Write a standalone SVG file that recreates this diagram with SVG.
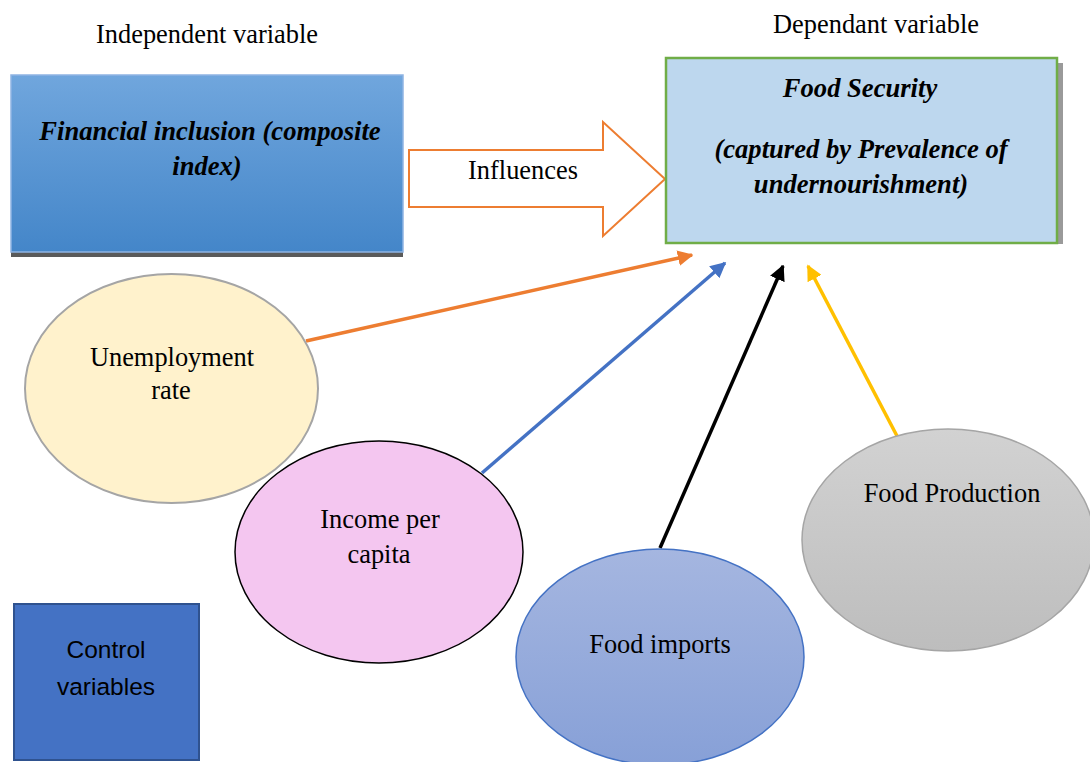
<svg xmlns="http://www.w3.org/2000/svg" width="1090" height="762" viewBox="0 0 1090 762">
<defs>
<linearGradient id="gFin" x1="0" y1="0" x2="0" y2="1"><stop offset="0" stop-color="#70a6dd"/><stop offset="1" stop-color="#4486c9"/></linearGradient>
<linearGradient id="gImp" x1="0" y1="0" x2="0" y2="1"><stop offset="0" stop-color="#a5b6e0"/><stop offset="1" stop-color="#87a0d7"/></linearGradient>
<linearGradient id="gProd" x1="0" y1="0" x2="0" y2="1"><stop offset="0" stop-color="#d2d2d2"/><stop offset="1" stop-color="#bdbdbd"/></linearGradient>
<marker id="mO" viewBox="0 0 10 10" refX="9" refY="5" markerWidth="4.5" markerHeight="4.5" orient="auto" markerUnits="strokeWidth"><path d="M0,0 L10,5 L0,10 z" fill="#ed7d31"/></marker>
<marker id="mB" viewBox="0 0 10 10" refX="9" refY="5" markerWidth="4.5" markerHeight="4.5" orient="auto" markerUnits="strokeWidth"><path d="M0,0 L10,5 L0,10 z" fill="#4472c4"/></marker>
<marker id="mK" viewBox="0 0 10 10" refX="9" refY="5" markerWidth="4.5" markerHeight="4.5" orient="auto" markerUnits="strokeWidth"><path d="M0,0 L10,5 L0,10 z" fill="#000"/></marker>
<marker id="mY" viewBox="0 0 10 10" refX="9" refY="5" markerWidth="4.5" markerHeight="4.5" orient="auto" markerUnits="strokeWidth"><path d="M0,0 L10,5 L0,10 z" fill="#ffc000"/></marker>
</defs>
<style>
.t{font-family:"Liberation Serif","Times New Roman",serif;font-size:26.4px;fill:#000;text-anchor:middle}
.bi{font-weight:bold;font-style:italic;font-size:26.6px}
.s{font-family:"Liberation Sans",Arial,sans-serif;font-size:24.5px;fill:#000;text-anchor:middle}
.c{fill:none;stroke-width:3.5}
</style>
<rect width="1090" height="762" fill="#fff"/>
<text class="t" x="207" y="43">Independent variable</text>
<text class="t" x="876" y="33">Dependant variable</text>
<g id="financial">
<rect x="11" y="252" width="392" height="5" fill="#5a5a5a"/>
<rect x="11" y="75" width="392" height="177" fill="url(#gFin)" stroke="#8fb4e3" stroke-width="1.5"/>
<text class="t bi" x="210" y="140">Financial inclusion (composite</text>
<text class="t bi" x="207" y="175">index)</text>
</g>
<g id="influences">
<path d="M409,150 L603,150 L603,122 L665,179 L603,236 L603,207 L409,207 Z" fill="#fff" stroke="#ed7d31" stroke-width="2"/>
<text class="t" x="523" y="179">Influences</text>
</g>
<g id="foodsecurity">
<rect x="1057" y="63" width="6" height="181" fill="#9a9a9a"/>
<rect x="666" y="58" width="391" height="185" fill="#bdd7ee" stroke="#70ad47" stroke-width="2.5"/>
<text class="t bi" x="860" y="97">Food Security</text>
<text class="t bi" x="861" y="158">(captured by Prevalence of</text>
<text class="t bi" x="861" y="193">undernourishment)</text>
</g>
<g id="connectors">
<line class="c" x1="306" y1="341" x2="692" y2="255" stroke="#ed7d31" marker-end="url(#mO)"/>
<line class="c" x1="482" y1="473" x2="725" y2="263" stroke="#4472c4" marker-end="url(#mB)"/>
<line class="c" x1="660" y1="548" x2="783" y2="266" stroke="#000" marker-end="url(#mK)"/>
<line class="c" x1="897" y1="436" x2="808" y2="266" stroke="#ffc000" marker-end="url(#mY)"/>
</g>
<g id="unemployment">
<ellipse cx="171.5" cy="388.5" rx="146.5" ry="114.5" fill="#fff2cc" stroke="#a5a5a5" stroke-width="2"/>
<text class="t" x="172" y="366">Unemployment</text>
<text class="t" x="171" y="399">rate</text>
</g>
<g id="income">
<ellipse cx="379" cy="552" rx="144" ry="111" fill="#f4c6f0" stroke="#000" stroke-width="1.5"/>
<text class="t" x="380" y="528">Income per</text>
<text class="t" x="379" y="563">capita</text>
</g>
<g id="imports">
<ellipse cx="660" cy="657" rx="144" ry="108" fill="url(#gImp)" stroke="#4472c4" stroke-width="1.5"/>
<text class="t" x="660" y="653">Food imports</text>
</g>
<g id="production">
<ellipse cx="948" cy="540" rx="146" ry="111" fill="url(#gProd)" stroke="#a5a5a5" stroke-width="1.5"/>
<text class="t" x="952" y="502">Food Production</text>
</g>
<g id="control">
<rect x="14" y="604" width="185" height="156" fill="#4472c4" stroke="#2f528f" stroke-width="2"/>
<text class="s" x="106" y="658">Control</text>
<text class="s" x="106" y="695">variables</text>
</g>
</svg>
